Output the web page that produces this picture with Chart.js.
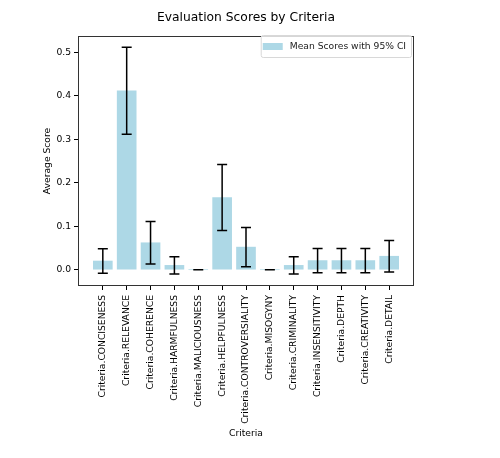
<!DOCTYPE html>
<html>
<head>
<meta charset="utf-8">
<script src="https://cdn.jsdelivr.net/npm/chart.js@4"></script>
<style>
  html, body { margin: 0; padding: 0; background: #fff; }
  #wrap { position: relative; width: 500px; height: 458px; }
</style>
</head>
<body>
<div id="wrap"><canvas id="chart"></canvas></div>
<script>
// --- Data ---
const categories = [
  'Criteria.CONCISENESS', 'Criteria.RELEVANCE', 'Criteria.COHERENCE', 'Criteria.HARMFULNESS',
  'Criteria.MALICIOUSNESS', 'Criteria.HELPFULNESS', 'Criteria.CONTROVERSIALITY', 'Criteria.MISOGYNY',
  'Criteria.CRIMINALITY', 'Criteria.INSENSITIVITY', 'Criteria.DEPTH', 'Criteria.CREATIVITY', 'Criteria.DETAIL'
];
const meanScores = [0.020, 0.412, 0.062, 0.010, 0.000, 0.166, 0.052, 0.000, 0.010, 0.021, 0.021, 0.021, 0.031];
const ciHalfWidth = [0.028, 0.100, 0.049, 0.020, 0.000, 0.076, 0.045, 0.000, 0.020, 0.028, 0.028, 0.028, 0.036];
const yTicks = [0.0, 0.1, 0.2, 0.3, 0.4, 0.5];

const FONT = 'DejaVu Sans';
const BAR_COLOR = '#ADD8E6';
const TITLE = 'Evaluation Scores by Criteria';

// error bars, title, full frame and in-plot legend
const extras = {
  id: 'extras',
  afterDatasetsDraw(chart) {
    const { ctx, chartArea: a, scales: { x, y } } = chart;
    ctx.save();
    // error bars
    ctx.strokeStyle = '#000';
    ctx.lineWidth = 1.5;
    meanScores.forEach((m, i) => {
      const px = x.getPixelForValue(i);
      const top = y.getPixelForValue(m + ciHalfWidth[i]);
      const bot = y.getPixelForValue(m - ciHalfWidth[i]);
      ctx.beginPath();
      ctx.moveTo(px, top); ctx.lineTo(px, bot);
      ctx.moveTo(px - 5, top); ctx.lineTo(px + 5, top);
      ctx.moveTo(px - 5, bot); ctx.lineTo(px + 5, bot);
      ctx.stroke();
    });
    // frame
    ctx.lineWidth = 1;
    ctx.strokeStyle = '#333';
    ctx.strokeRect(a.left + 0.5, a.top + 0.5, a.right - a.left - 1, a.bottom - a.top - 1);
    // title, centred over the axes
    ctx.fillStyle = '#000';
    ctx.font = '12.3px "' + FONT + '"';
    ctx.textAlign = 'center';
    ctx.textBaseline = 'middle';
    ctx.fillText(TITLE, (a.left + a.right) / 2, 18);
    // legend
    const label = chart.data.datasets[0].label;
    ctx.font = '9.2px "' + FONT + '"';
    ctx.textAlign = 'left';
    const tw = ctx.measureText(label).width;
    const bw = tw + 34, bh = 22;
    const bx = a.right - 3 - bw, by = a.top - 1;
    ctx.fillStyle = 'rgba(255,255,255,0.8)';
    ctx.strokeStyle = '#d8d8d8';
    ctx.beginPath();
    ctx.roundRect(bx + 0.5, by + 0.5, bw, bh, 2);
    ctx.fill(); ctx.stroke();
    ctx.fillStyle = BAR_COLOR;
    ctx.fillRect(bx + 2, by + 8, 20, 7);
    ctx.fillStyle = '#222';
    ctx.fillText(label, bx + 29, by + bh / 2 + 0.5);
    ctx.restore();
  }
};

new Chart(document.getElementById('chart'), {
  type: 'bar',
  data: {
    datasets: [{
      label: 'Mean Scores with 95% CI',
      data: meanScores.map((v, i) => ({ x: i, y: v })),
      backgroundColor: BAR_COLOR,
      borderWidth: 0,
      barThickness: 19
    }]
  },
  options: {
    responsive: true,
    maintainAspectRatio: false,
    animation: false,
    layout: { padding: { left: 38.5, right: 86, bottom: 15, top: 36 } },
    plugins: {
      legend: { display: false },
      tooltip: { enabled: false },
      title: { display: false }
    },
    scales: {
      x: {
        type: 'linear',
        offset: false,
        min: -1.04,
        max: 13.04,
        afterBuildTicks: s => { s.ticks = categories.map((c, i) => ({ value: i })); },
        afterFit: s => { s.height = 157; },
        ticks: {
          autoSkip: false,
          minRotation: 90,
          maxRotation: 90,
          color: '#000',
          font: { family: FONT, size: 9.2 },
          padding: 5,
          callback: v => categories[v]
        },
        grid: { display: true, offset: false, drawOnChartArea: false, tickLength: 4, color: '#000' },
        border: { display: false },
        title: {
          display: true,
          text: 'Criteria',
          color: '#000',
          font: { family: FONT, size: 9.2 }
        }
      },
      y: {
        min: -0.0375,
        max: 0.538,
        afterBuildTicks: s => { s.ticks = yTicks.map(v => ({ value: v })); },
        afterFit: s => { s.width = 39.5; },
        ticks: {
          color: '#000',
          font: { family: FONT, size: 9.2 },
          padding: 3,
          callback: v => v.toFixed(1)
        },
        grid: { display: true, drawOnChartArea: false, tickLength: 4, color: '#000' },
        border: { display: false },
        title: {
          display: true,
          text: 'Average Score',
          color: '#000',
          font: { family: FONT, size: 9.2 }
        }
      }
    }
  },
  plugins: [extras]
});
</script>
</body>
</html>
